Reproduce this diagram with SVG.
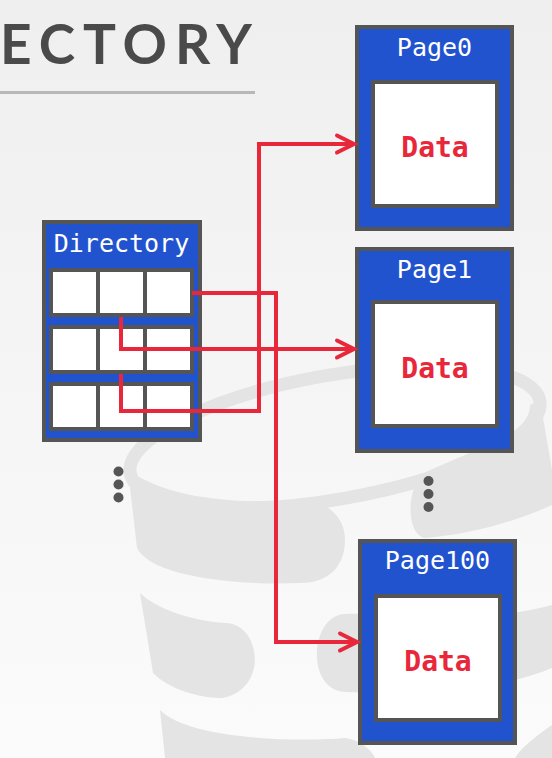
<svg xmlns="http://www.w3.org/2000/svg" width="552" height="758" viewBox="0 0 552 758">
  <defs>
    <linearGradient id="bg" x1="0" y1="0" x2="0" y2="1">
      <stop offset="0" stop-color="#efefef"/>
      <stop offset="1" stop-color="#fbfbfb"/>
    </linearGradient>
    <marker id="arr" markerUnits="userSpaceOnUse" viewBox="-22 -13 26 26" markerWidth="26" markerHeight="26" refX="0" refY="0" orient="auto" overflow="visible">
      <path d="M-17,-8.5 L0,0 L-17,8.5" fill="none" stroke="#E8283A" stroke-width="4" stroke-linecap="round" stroke-linejoin="miter"/>
    </marker>
    <style>
      .wm { fill: #e4e4e4; }
      .box { fill: #2253CF; stroke: #555555; stroke-width: 4; }
      .inner { fill: #ffffff; stroke: #555555; stroke-width: 4; }
      .row { fill: #555555; }
      .cell { fill: #ffffff; }
      .lbl { font-family: "DejaVu Sans Mono", "Liberation Mono", monospace; font-size: 25px; fill: #ffffff; text-anchor: middle; }
      .data { font-family: "DejaVu Sans Mono", "Liberation Mono", monospace; font-size: 28px; font-weight: bold; fill: #E8283A; text-anchor: middle; }
      .conn { fill: none; stroke: #E8283A; stroke-width: 4; stroke-linejoin: miter; }
      .dot { fill: #555555; }
    </style>
  </defs>

  <rect x="0" y="0" width="552" height="758" fill="url(#bg)"/>

  <!-- watermark -->
  <g id="watermark">
    <ellipse cx="335" cy="437" rx="208" ry="62" transform="rotate(-10 335 437)" fill="none" stroke="#e4e4e4" stroke-width="13"/>
    <path class="wm" d="M128,470 L137,548 C150,575 230,586 300,583 C330,583 345,565 345,540 C345,515 325,500 300,500 C240,504 170,500 128,470 Z"/>
    <path class="wm" d="M140,593 C160,612 200,622 227,623 C262,626 268,690 222,698 C200,698 170,690 153,673 Z"/>
    <path class="wm" d="M160,710 C190,740 300,742 345,738 C360,740 372,750 375,758 L165,758 Z"/>
    <path class="wm" d="M540,400 L552,470 L552,505 C520,520 470,535 425,538 C405,535 405,480 430,470 L500,440 C520,430 530,418 530,405 Z"/>
    <path class="wm" d="M552,605 C480,625 400,612 345,614 C310,615 305,690 345,692 C420,695 500,690 552,668 Z"/>
    <path class="wm" d="M552,725 C530,740 520,750 515,758 L552,758 Z"/>
  </g>

  <!-- title -->
  <g id="title">
    <text x="0" y="64" font-family="Lato, 'Open Sans', 'Liberation Sans', sans-serif" font-weight="bold" font-size="55" fill="#4a4a4a" textLength="252" lengthAdjust="spacing">ECTORY</text>
    <line x1="0" y1="92.5" x2="255" y2="92.5" stroke="#b8b8b8" stroke-width="3"/>
  </g>

  <!-- directory -->
  <g id="directory">
    <rect class="box" x="44" y="222" width="156" height="218"/>
    <text class="lbl" x="121.5" y="252">Directory</text>
    <rect class="row" x="49" y="268" width="145" height="49"/>
    <rect class="cell" x="53" y="272" width="43" height="41"/>
    <rect class="cell" x="100" y="272" width="43" height="41"/>
    <rect class="cell" x="147" y="272" width="43" height="41"/>
    <rect class="row" x="49" y="325" width="145" height="49"/>
    <rect class="cell" x="53" y="329" width="43" height="41"/>
    <rect class="cell" x="100" y="329" width="43" height="41"/>
    <rect class="cell" x="147" y="329" width="43" height="41"/>
    <rect class="row" x="49" y="382" width="145" height="49"/>
    <rect class="cell" x="53" y="386" width="43" height="41"/>
    <rect class="cell" x="100" y="386" width="43" height="41"/>
    <rect class="cell" x="147" y="386" width="43" height="41"/>
  </g>

  <g id="dir-more">
    <circle class="dot" cx="118.5" cy="471.5" r="5"/>
    <circle class="dot" cx="118.5" cy="484.5" r="5"/>
    <circle class="dot" cx="118.5" cy="497.5" r="5"/>
  </g>

  <!-- pages -->
  <g id="page0">
    <rect class="box" x="357" y="27" width="155" height="202"/>
    <text class="lbl" x="434.5" y="56">Page0</text>
    <rect class="inner" x="373" y="82" width="124" height="124"/>
    <text class="data" x="435" y="157">Data</text>
  </g>

  <g id="page1">
    <rect class="box" x="357" y="249" width="155" height="202"/>
    <text class="lbl" x="434.5" y="278">Page1</text>
    <rect class="inner" x="373" y="302" width="124" height="124"/>
    <text class="data" x="435" y="378">Data</text>
  </g>

  <g id="page-more">
    <circle class="dot" cx="428.5" cy="481" r="5"/>
    <circle class="dot" cx="428.5" cy="494" r="5"/>
    <circle class="dot" cx="428.5" cy="507" r="5"/>
  </g>

  <g id="page100">
    <rect class="box" x="360" y="541" width="155" height="202"/>
    <text class="lbl" x="437.5" y="569">Page100</text>
    <rect class="inner" x="376" y="596" width="124" height="124"/>
    <text class="data" x="438" y="671">Data</text>
  </g>

  <!-- connectors -->
  <g id="connectors">
    <path class="conn" d="M192,293 H276 V642 H357" marker-end="url(#arr)"/>
    <path class="conn" d="M121,317 V349 H354" marker-end="url(#arr)"/>
    <path class="conn" d="M121,374 V411 H259 V144 H354" marker-end="url(#arr)"/>
  </g>
</svg>
